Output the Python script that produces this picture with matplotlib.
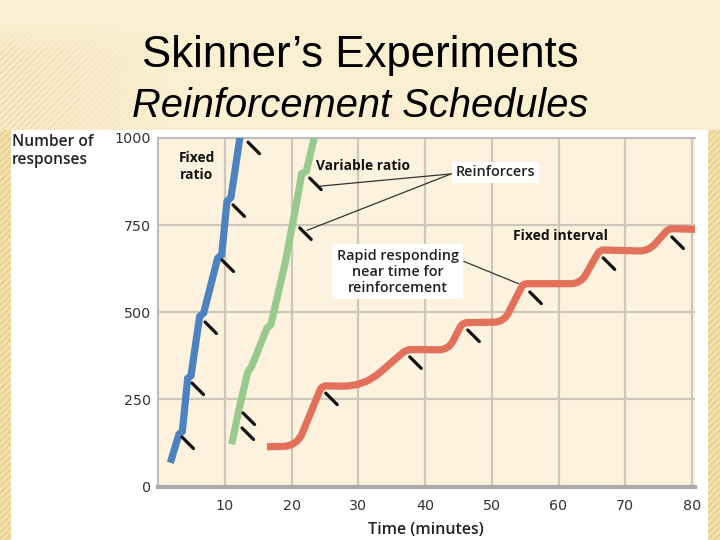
import matplotlib
matplotlib.use("Agg")
import matplotlib.pyplot as plt
from matplotlib.path import Path
from matplotlib.patches import PathPatch, Rectangle
import numpy as np

# ---------------- data ----------------
fr_x = [1.8, 3.1, 3.6, 4.4, 4.9, 6.2, 6.8, 8.9, 9.5, 10.3, 10.9, 12.3]
fr_y = [68, 150, 158, 310, 318, 488, 498, 655, 665, 818, 830, 1010]
fr_marks_x = [3.55, 5.05, 7.0, 9.55, 11.2, 13.45]
fr_marks_y = [142, 297, 472, 650, 808, 988]

vr_x = [11.0, 12.2, 13.4, 14.0, 16.3, 16.9, 19.0, 20.5, 21.5, 22.2, 23.5]
vr_y = [121, 230, 328, 345, 455, 465, 640, 790, 897, 905, 1010]
vr_marks_x = [12.55, 12.7, 21.2, 22.7]
vr_marks_y = [168, 211, 742, 885]

# fixed interval: corner points of the scalloped steps
fi_x = [16.3, 20.8, 24.5, 30.8, 37.2, 43.5, 45.6, 51.8, 54.7, 63.3, 66.2, 73.5, 76.5, 80.6]
fi_y = [114, 116, 289, 287, 393, 392, 470, 472, 582, 582, 679, 675, 740, 738]
fi_marks_x = [25.1, 37.7, 46.4, 55.7, 66.7, 77.0]
fi_marks_y = [268, 372, 449, 558, 656, 716]

x_ticks = [10, 20, 30, 40, 50, 60, 70, 80]
y_ticks = [0, 250, 500, 750, 1000]

# ---------------- figure ----------------
W, H = 720, 540
fig = plt.figure(figsize=(7.2, 5.4), dpi=100)
base = np.array([251, 239, 210]) / 255.0
fig.patch.set_facecolor(base)

# slide background texture
Yg, Xg = np.mgrid[0:H, 0:W].astype(float)
stripe = (np.sin((Xg + Yg) * 2 * np.pi / 6.5) + 1) / 2
img = np.ones((H, W, 3)) * base
fade = np.clip(1 - Xg / 170.0, 0, 1) * np.clip((Yg - 25) / 30.0, 0, 1)
dark = np.array([238, 218, 168]) / 255.0
img = img + (dark - base) * (stripe * fade * 0.9)[..., None]
side = ((Xg < 11) | (Xg >= 708)) & (Yg >= 130)
gold = np.array([234, 207, 142]) / 255.0
light = np.array([245, 228, 180]) / 255.0
sideimg = gold + (light - gold) * stripe[..., None]
img[side] = sideimg[side]
white = (Xg >= 11) & (Xg < 708) & (Yg >= 130)
img[white] = 1.0
bg = fig.add_axes([0, 0, 1, 1], zorder=-10)
bg.imshow(img, extent=(0, W, H, 0), interpolation='nearest', aspect='auto')
bg.set_xlim(0, W); bg.set_ylim(H, 0); bg.axis('off')

# titles
fig.text(0.5, 1 - 67 / H, 'Skinner\u2019s Experiments', ha='center', va='baseline',
         fontsize=31.5, family='Liberation Sans', color='black')
fig.text(0.5, 1 - 117 / H, 'Reinforcement Schedules', ha='center', va='baseline',
         fontsize=28.7, family='Liberation Sans', style='italic', color='black')

# main axes
left, right, top, bottom = 158.3, 695, 138, 486.5
ax = fig.add_axes([left / W, 1 - bottom / H, (right - left) / W, (bottom - top) / H])
ax.set_facecolor('#fdf2de')
ax.set_xlim(0, (right - left) / 6.67)
ax.set_ylim(0, 1000)
ax.set_xticks(x_ticks)
ax.set_yticks(y_ticks)
ax.grid(True, color='#cdc6bb', lw=1.6)
ax.set_axisbelow(True)
ax.tick_params(length=0, labelsize=10.3, labelcolor='#333333')
ax.tick_params(axis='x', pad=9)
ax.tick_params(axis='y', pad=5)
for lab in ax.get_xticklabels() + ax.get_yticklabels():
    lab.set_family('DejaVu Sans')
ax.spines['right'].set_visible(False)
ax.spines['top'].set_color('#bdbdbd'); ax.spines['top'].set_linewidth(1.5)
ax.spines['left'].set_color('#bdbdbd'); ax.spines['left'].set_linewidth(1.5)
ax.spines['bottom'].set_color('#aaaaaa'); ax.spines['bottom'].set_linewidth(3)

lw = 5.2
ax.plot(fr_x, fr_y, color='#4c82c0', lw=lw, solid_joinstyle='miter', solid_capstyle='butt', zorder=3)
ax.plot(vr_x, vr_y, color='#98ca8e', lw=lw, solid_joinstyle='miter', solid_capstyle='butt', zorder=3)


def rounded_path(xs, ys, radii):
    """Polyline through the given corners with quadratic-Bezier rounded bends (display px radii)."""
    pts = ax.transData.transform(np.column_stack([xs, ys]))
    verts = [pts[0]]
    codes = [Path.MOVETO]
    for i in range(1, len(pts) - 1):
        c = pts[i]
        a = pts[i - 1]
        b = pts[i + 1]
        da = (a - c) / np.linalg.norm(a - c)
        db = (b - c) / np.linalg.norm(b - c)
        r = radii[i - 1]
        r = min(r, 0.5 * np.linalg.norm(a - c), 0.5 * np.linalg.norm(b - c))
        p0 = c + da * r
        p1 = c + db * r
        verts += [p0, c, p1]
        codes += [Path.LINETO, Path.CURVE3, Path.CURVE3]
    verts.append(pts[-1]); codes.append(Path.LINETO)
    verts = ax.transData.inverted().transform(np.array(verts))
    return Path(verts, codes)

fi_radii = [14, 5, 22, 5, 10, 5, 10, 4, 10, 4, 10, 4]
fi_path = rounded_path(fi_x, fi_y, fi_radii)
ax.add_patch(PathPatch(fi_path, fc='none', ec='#e3705a', lw=lw, capstyle='butt',
                       joinstyle='round', zorder=3))

# reinforcer marks
for mx, my in zip(fr_marks_x + vr_marks_x + fi_marks_x, fr_marks_y + vr_marks_y + fi_marks_y):
    ax.annotate('', xy=(mx, my), xycoords='data',
                xytext=(8.3, -8.3), textcoords='offset points',
                arrowprops=dict(arrowstyle='-', color='#111111', lw=2.3,
                                shrinkA=0, shrinkB=0), zorder=4)

font_lab = 'Open Sans'
ax.text(5.8, 918, 'Fixed\nratio', ha='center', va='center', fontsize=9.9,
        family=font_lab, weight='bold', linespacing=1.25, color='#111111')
ax.text(23.6, 920, 'Variable ratio', ha='left', va='center', fontsize=9.9,
        family=font_lab, weight='bold', color='#111111')
ax.text(60.3, 718, 'Fixed interval', ha='center', va='center', fontsize=10,
        family=font_lab, weight='bold', color='#111111')

# reinforcers callout
ax.annotate('', xy=(24.3, 862), xytext=(43.9, 897),
            arrowprops=dict(arrowstyle='-', color='#333333', lw=0.9, shrinkA=0, shrinkB=0))
ax.annotate('', xy=(22.3, 735), xytext=(43.9, 897),
            arrowprops=dict(arrowstyle='-', color='#333333', lw=0.9, shrinkA=0, shrinkB=0))
ax.text(50.6, 902, 'Reinforcers', ha='center', va='center', fontsize=10.4,
        family=font_lab, weight='semibold', color='#222222',
        bbox=dict(boxstyle='square,pad=0.25', fc='white', ec='none'), zorder=5)

# rapid responding callout
ax.annotate('', xy=(54.0, 582), xytext=(45.8, 646),
            arrowprops=dict(arrowstyle='-', color='#333333', lw=0.9, shrinkA=0, shrinkB=0))
ax.text(35.9, 616, 'Rapid responding\nnear time for\nreinforcement', ha='center', va='center',
        fontsize=10.4, family=font_lab, weight='semibold', color='#222222', linespacing=1.2,
        bbox=dict(boxstyle='square,pad=0.3', fc='white', ec='none'), zorder=5)

# axis labels
fig.text(12 / W, 1 - 151 / H, 'Number of\nresponses', ha='left', va='center', fontsize=11.2,
         family=font_lab, weight='semibold', color='#222222', linespacing=1.25)
fig.text(426 / W, 1 - 530 / H, 'Time (minutes)', ha='center', va='center', fontsize=11.5,
         family=font_lab, weight='semibold', color='#222222')

fig.savefig('out.png', dpi=100, facecolor=fig.get_facecolor())
